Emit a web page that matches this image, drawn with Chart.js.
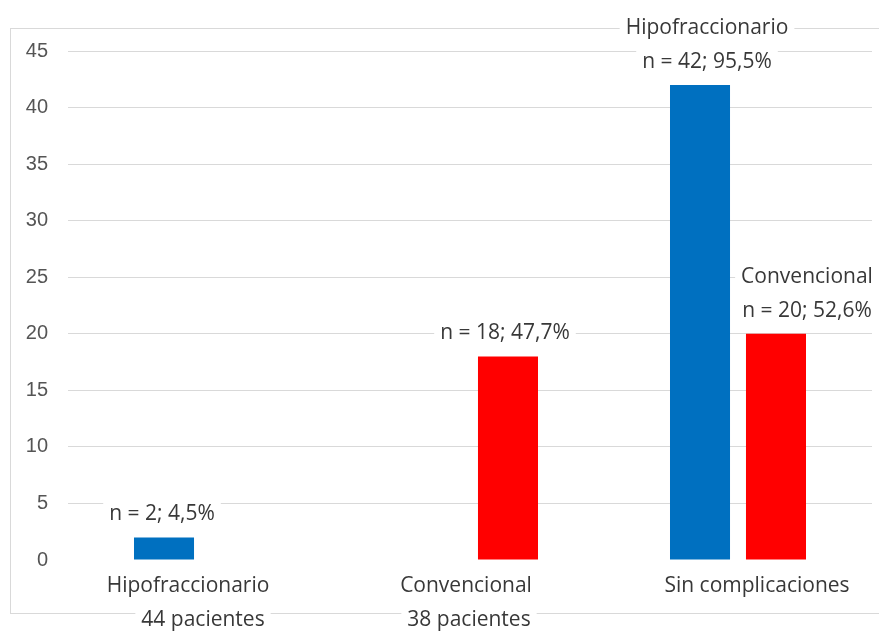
<!DOCTYPE html>
<html>
<head>
<meta charset="utf-8">
<script src="https://cdn.jsdelivr.net/npm/chart.js@4.4.1/dist/chart.umd.min.js"></script>
<style>
  html, body { margin: 0; padding: 0; background: #ffffff; }
  #wrap { width: 879px; height: 633px; position: relative; }
</style>
</head>
<body>
<div id="wrap"><canvas id="chart"></canvas></div>
<script>
// Grupos del eje X
const categories = [["Hipofraccionario", "44 pacientes"], ["Convencional", "38 pacientes"], ["Sin complicaciones"]];
// Series
const seriesNames = ["Hipofraccionario", "Convencional"];
const hipoValues = [2, 0, 42];
const convValues = [0, 18, 20];
// Etiquetas sobre las barras
const hipoLabels = [["n = 2; 4,5%"], null, ["Hipofraccionario", "n = 42; 95,5%"]];
const convLabels = [null, ["n = 18; 47,7%"], ["Convencional", "n = 20; 52,6%"]];
// Eje Y
const yMin = 0, yMax = 45, yStep = 5;

const LABEL_FONT = '500 21px "Open Sans", Lato, sans-serif';
const LABEL_COLOR = '#383838';

// Marco exterior del gráfico
const framePlugin = {
  id: 'frame',
  beforeDraw(chart) {
    const ctx = chart.ctx;
    ctx.save();
    ctx.strokeStyle = '#d9d9d9';
    ctx.lineWidth = 1;
    ctx.strokeRect(10.5, 28.5, 900, 585);
    ctx.restore();
  }
};

function drawBoxedText(ctx, text, x, y) {
  const w = ctx.measureText(text).width;
  ctx.fillStyle = '#ffffff';
  ctx.fillRect(x - w / 2 - 6, y - 12, w + 12, 24);
  ctx.fillStyle = LABEL_COLOR;
  ctx.fillText(text, x, y);
}

// Etiquetas de valor con fondo blanco
const valueLabelPlugin = {
  id: 'valueLabels',
  afterDatasetsDraw(chart, args, opts) {
    const ctx = chart.ctx;
    ctx.save();
    ctx.font = LABEL_FONT;
    ctx.textAlign = 'center';
    ctx.textBaseline = 'middle';
    chart.data.datasets.forEach((ds, di) => {
      const meta = chart.getDatasetMeta(di);
      ds.valueLabels.forEach((lines, i) => {
        if (!lines) return;
        const el = meta.data[i];
        const dx = (opts.offsets[di] && opts.offsets[di][i]) || 0;
        const x = el.x + dx;
        let y = el.y - opts.gap;
        for (let k = lines.length - 1; k >= 0; k--) {
          drawBoxedText(ctx, lines[k], x, y);
          y -= opts.lineGap;
        }
      });
    });
    ctx.restore();
  }
};

// Rótulos de categoría (dos líneas) bajo el eje X
const categoryLabelPlugin = {
  id: 'categoryLabels',
  afterDraw(chart, args, opts) {
    const ctx = chart.ctx;
    const xs = chart.scales.x;
    ctx.save();
    ctx.font = LABEL_FONT;
    ctx.textAlign = 'center';
    ctx.textBaseline = 'middle';
    chart.data.labels.forEach((lines, i) => {
      const cx = xs.getPixelForValue(i);
      lines.forEach((line, k) => {
        const dx = (opts.offsets[i] && opts.offsets[i][k]) || 0;
        drawBoxedText(ctx, line, cx + dx, xs.top + opts.firstLine + k * opts.lineGap);
      });
    });
    ctx.restore();
  }
};

new Chart(document.getElementById('chart'), {
  type: 'bar',
  data: {
    labels: categories,
    datasets: [
      { label: seriesNames[0], data: hipoValues, valueLabels: hipoLabels, backgroundColor: '#0070C0', borderWidth: 0 },
      { label: seriesNames[1], data: convValues, valueLabels: convLabels, backgroundColor: '#FF0000', borderWidth: 0 }
    ]
  },
  options: {
    responsive: true,
    maintainAspectRatio: false,
    animation: false,
    layout: { padding: { top: 51, right: 7, left: 0, bottom: 0 } },
    datasets: { bar: { categoryPercentage: 0.567, barPercentage: 0.79 } },
    plugins: {
      legend: { display: false },
      tooltip: { enabled: false },
      valueLabels: { gap: 23, lineGap: 34, offsets: [[-2, 0, 7], [0, -3, 31]] },
      categoryLabels: { firstLine: 26, lineGap: 34, offsets: [[-14, 1], [-4, -1], [19]] }
    },
    scales: {
      x: {
        grid: { display: false, drawTicks: false },
        border: { display: false },
        ticks: { display: false },
        afterFit(scale) { scale.height = 73; }
      },
      y: {
        min: yMin,
        max: yMax,
        ticks: {
          stepSize: yStep,
          color: '#555555',
          font: { family: '"Liberation Sans", Arial, sans-serif', size: 20 },
          padding: 20
        },
        grid: {
          drawTicks: false,
          color: (c) => c.tick && c.tick.value === 0 ? 'rgba(0,0,0,0)' : '#d9d9d9',
          lineWidth: 1
        },
        border: { display: false },
        afterFit(scale) { scale.width = 68; }
      }
    }
  },
  plugins: [framePlugin, valueLabelPlugin, categoryLabelPlugin]
});
</script>
</body>
</html>
